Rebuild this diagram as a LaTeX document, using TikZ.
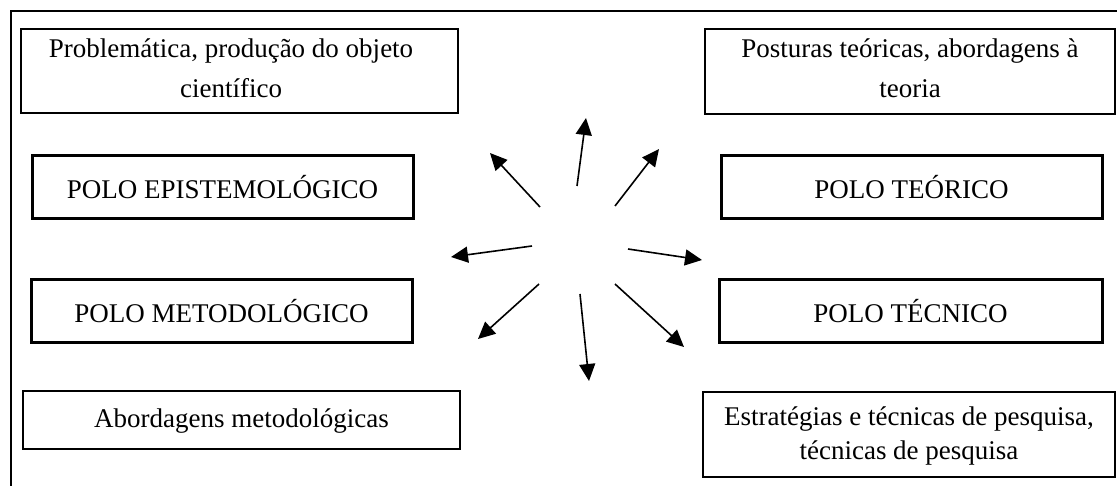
\documentclass[tikz,border=0pt]{standalone}
\usepackage{fontspec}
\setmainfont{Liberation Serif}
\usetikzlibrary{arrows.meta}
\begin{document}
\begin{tikzpicture}[x=1pt,y=-1pt,
  thinbox/.style={draw, line width=1.3pt, inner sep=0pt},
  txt/.style={inner sep=0pt, align=center, font=\fontsize{27}{40}\selectfont},
  polobox/.style={draw, line width=3pt, inner sep=0pt, align=center,
    minimum width=381pt, minimum height=63pt,
    font=\fontsize{27}{32}\selectfont},
  ray/.style={line width=1.6pt, -{Triangle[length=17pt,width=16pt]}}]
\useasboundingbox (0,0) rectangle (1117,486);
\begin{scope}
\clip (0,0) rectangle (1117,486);
\draw[line width=1.5pt] (11,520) -- (11,11) -- (1140,11);
\end{scope}
% top boxes
\node[thinbox, minimum width=437pt, minimum height=84pt] (prob) at (239.5,71) {};
\node[txt] (probt) at (231,68) {Problemática, produção do objeto\\científico};
\node[thinbox, minimum width=410pt, minimum height=85pt] (post) at (910,71.5) {};
\node[txt] (postt) at (910,68.5) {Posturas teóricas, abordagens à\\teoria};
% polo boxes
\node[polobox] (epist) at (222.5,187.5) {POLO EPISTEMOLÓGICO};
\node[polobox] (teor) at (911.5,187.5) {POLO TEÓRICO};
\node[polobox] (metod) at (221.5,311.5) {POLO METODOLÓGICO};
\node[polobox, minimum width=383pt] (tecn) at (910.5,311) {POLO TÉCNICO};
% bottom boxes
\node[thinbox, minimum width=437pt, minimum height=58pt] (abord) at (241.5,420) {};
\node[txt] (abordt) at (241.5,421) {Abordagens metodológicas};
\node[thinbox, minimum width=412pt, minimum height=85pt] (estr) at (909,434.5) {};
\node[txt, font=\fontsize{27}{34}\selectfont] (estrt) at (909,436)
  {Estratégias e técnicas de pesquisa,\\técnicas de pesquisa};
% arrows
\coordinate (s1) at (540,207); \coordinate (t1) at (490,153);
\coordinate (s2) at (577,186); \coordinate (t2) at (586,118);
\coordinate (s3) at (615,206); \coordinate (t3) at (659,149);
\coordinate (s4) at (532,246); \coordinate (t4) at (451,257);
\coordinate (s5) at (628,249); \coordinate (t5) at (702,260);
\coordinate (s6) at (539,284); \coordinate (t6) at (478,339);
\coordinate (s7) at (580,294); \coordinate (t7) at (589,381);
\coordinate (s8) at (615,284); \coordinate (t8) at (684,347);
\foreach \i in {1,...,8} \draw[ray] (s\i) -- (t\i);
\end{tikzpicture}
\end{document}
